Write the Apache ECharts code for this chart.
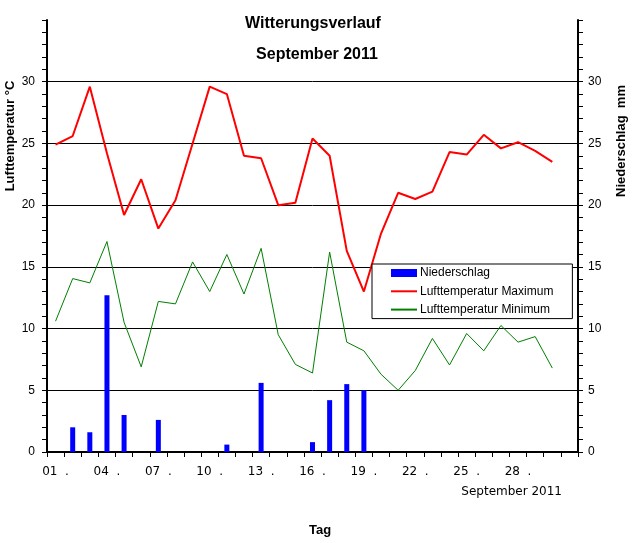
<!DOCTYPE html>
<html>
<head>
<meta charset="utf-8">
<style>
  html, body { margin: 0; padding: 0; background: #fff; }
  #chart { width: 634px; height: 543px; }
</style>
<script src="https://cdn.jsdelivr.net/npm/echarts@6/dist/echarts.min.js"></script>
</head>
<body>
<div id="chart"></div>
<script>
const days = ['01','02','03','04','05','06','07','08','09','10','11','12','13','14','15',
              '16','17','18','19','20','21','22','23','24','25','26','27','28','29','30','31'];
const niederschlag = [0, 2.0, 1.6, 12.7, 3.0, 0, 2.6, 0, 0, 0, 0.6, 0, 5.6, 0, 0,
                      0.8, 4.2, 5.5, 5.0, 0, 0, 0, 0, 0, 0, 0, 0, 0, 0, 0];
const tempMax = [24.9, 25.6, 29.6, 24.2, 19.2, 22.1, 18.1, 20.4, 25.0, 29.6, 29.0, 24.0, 23.8, 20.0, 20.2,
                 25.4, 24.0, 16.3, 13.0, 17.7, 21.0, 20.5, 21.1, 24.3, 24.1, 25.7, 24.6, 25.1, 24.4, 23.5];
const tempMin = [10.6, 14.05, 13.7, 17.05, 10.5, 6.9, 12.2, 12.0, 15.4, 13.0, 16.0, 12.8, 16.5, 9.5, 7.1,
                 6.4, 16.2, 8.9, 8.2, 6.3, 5.0, 6.6, 9.2, 7.05, 9.6, 8.2, 10.25, 8.9, 9.35, 6.8];
const labelDays = ['01','04','07','10','13','16','19','22','25','28'];

const chart = echarts.init(document.getElementById('chart'), null, { renderer: 'canvas' });

const axisFont = 'Liberation Sans, Arial, sans-serif';

const yAxisCommon = {
  type: 'value',
  min: 0,
  max: 35,
  interval: 5,
  axisLine: { show: true, lineStyle: { color: '#000', width: 2 } },
  axisTick: { show: true, length: 5, lineStyle: { color: '#000', width: 1 } },
  minorTick: { show: true, splitNumber: 5, length: 5, lineStyle: { color: '#000', width: 1 } },
  axisLabel: { showMaxLabel: false, color: '#000', fontSize: 12, fontFamily: axisFont }
};

const option = {
  animation: false,
  backgroundColor: '#fff',
  grid: { left: 47, right: 56, top: 20, bottom: 91, containLabel: false },
  legend: {
    data: [
      { name: 'Niederschlag', icon: 'rect' },
      { name: 'Lufttemperatur Maximum', itemStyle: { opacity: 0 } },
      { name: 'Lufttemperatur Minimum', itemStyle: { opacity: 0 } }
    ],
    orient: 'vertical',
    left: 372,
    top: 264,
    backgroundColor: '#fff',
    borderColor: '#000',
    borderWidth: 1,
    borderRadius: 0,
    padding: [3, 19, 3, 18],
    itemWidth: 26,
    itemHeight: 8,
    itemGap: 6.3,
    textStyle: { color: '#000', fontSize: 12, fontFamily: axisFont, lineHeight: 12, padding: [0, 0, 0, -2] },
    selectedMode: false
  },
  xAxis: {
    type: 'category',
    data: days,
    boundaryGap: true,
    axisLine: { show: true, lineStyle: { color: '#000', width: 2 } },
    axisTick: { show: true, interval: 0, length: 5, lineStyle: { color: '#000', width: 1 } },
    axisLabel: {
      interval: function (i, v) { return labelDays.indexOf(v) >= 0; },
      formatter: function (v) { return v + '  .'; },
      color: '#000',
      fontSize: 12,
      fontFamily: 'DejaVu Sans, Verdana, sans-serif',
      margin: 14
    },
    splitLine: { show: false }
  },
  yAxis: [
    Object.assign({}, yAxisCommon, {
      position: 'left',
      axisLabel: Object.assign({}, yAxisCommon.axisLabel, { margin: 12 }),
      splitLine: { show: true, showMinLine: false, showMaxLine: false, lineStyle: { color: '#000', width: 1 } }
    }),
    Object.assign({}, yAxisCommon, {
      position: 'right',
      axisLabel: Object.assign({}, yAxisCommon.axisLabel, { margin: 10 }),
      splitLine: { show: false }
    })
  ],
  series: [
    {
      name: 'Niederschlag',
      type: 'bar',
      yAxisIndex: 1,
      data: niederschlag,
      barWidth: 5,
      itemStyle: { color: '#0000ff' }
    },
    {
      name: 'Lufttemperatur Maximum',
      type: 'line',
      yAxisIndex: 0,
      data: tempMax,
      symbol: 'none',
      lineStyle: { color: '#ff0000', width: 2 },
      itemStyle: { color: '#ff0000' }
    },
    {
      name: 'Lufttemperatur Minimum',
      type: 'line',
      yAxisIndex: 0,
      data: tempMin,
      symbol: 'none',
      lineStyle: { color: '#008000', width: 1 },
      itemStyle: { color: '#008000' }
    }
  ],
  graphic: [
    { type: 'text', x: 313, y: 24, style: { text: 'Witterungsverlauf', fill: '#000', font: 'bold 16px Liberation Sans, Arial, sans-serif', textAlign: 'center', textVerticalAlign: 'middle' } },
    { type: 'text', x: 317, y: 55, style: { text: 'September 2011', fill: '#000', font: 'bold 16px Liberation Sans, Arial, sans-serif', textAlign: 'center', textVerticalAlign: 'middle' } },
    { type: 'text', x: 10, y: 136, rotation: Math.PI / 2, style: { text: 'Lufttemperatur °C', fill: '#000', font: 'bold 13px Liberation Sans, Arial, sans-serif', textAlign: 'center', textVerticalAlign: 'middle' } },
    { type: 'text', x: 621, y: 141, rotation: Math.PI / 2, style: { text: 'Niederschlag  mm', fill: '#000', font: 'bold 13px Liberation Sans, Arial, sans-serif', textAlign: 'center', textVerticalAlign: 'middle' } },
    { type: 'text', x: 562, y: 492, style: { text: 'September 2011', fill: '#000', font: '12px DejaVu Sans, Verdana, sans-serif', textAlign: 'right', textVerticalAlign: 'middle' } },
    { type: 'text', x: 320, y: 530, style: { text: 'Tag', fill: '#000', font: 'bold 13px Liberation Sans, Arial, sans-serif', textAlign: 'center', textVerticalAlign: 'middle' } }
  ]
};

chart.setOption(option);
</script>
</body>
</html>
